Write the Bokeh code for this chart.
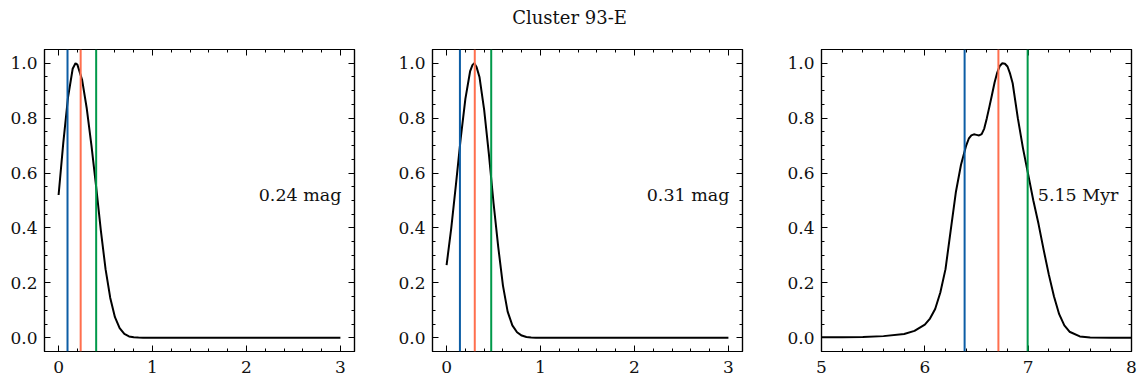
from bokeh.plotting import figure
from bokeh.layouts import row, column
from bokeh.models import LinearAxis, FixedTicker, Label, Span, CustomLabelingPolicy
from bokeh.embed import file_html
from bokeh.resources import INLINE

FONT = "DejaVu Serif"
TITLE = "Cluster 93-E"

# Panel 1 (extinction, mag)
p1_x = [0, 0.05, 0.10, 0.15, 0.18, 0.20, 0.25, 0.30, 0.35, 0.40, 0.45, 0.50,
        0.55, 0.60, 0.65, 0.70, 0.75, 0.80, 0.85, 0.90, 1.0, 1.5, 2.0, 2.5, 3.0]
p1_y = [0.52, 0.71, 0.875, 0.98, 1.0, 0.995, 0.94, 0.835, 0.70, 0.55, 0.39, 0.25,
        0.145, 0.075, 0.035, 0.014, 0.005, 0.002, 0.001, 0.0003, 0.0, 0.0, 0.0, 0.0, 0.0]
p1_lines = [0.095, 0.235, 0.40]
p1_label = "0.24 mag"

# Panel 2 (extinction, mag)
p2_x = [0, 0.05, 0.10, 0.15, 0.20, 0.25, 0.275, 0.295, 0.32, 0.35, 0.40, 0.45, 0.50,
        0.55, 0.60, 0.65, 0.70, 0.75, 0.80, 0.85, 0.90, 0.95, 1.0, 1.5, 2.0, 2.5, 3.0]
p2_y = [0.265, 0.40, 0.56, 0.725, 0.87, 0.97, 0.993, 1.0, 0.985, 0.95, 0.83, 0.67, 0.49,
        0.33, 0.19, 0.095, 0.045, 0.02, 0.008, 0.003, 0.001, 0.0004, 0.0001, 0.0, 0.0,
        0.0, 0.0]
p2_lines = [0.142, 0.30, 0.475]
p2_label = "0.31 mag"

# Panel 3 (log age)
p3_x = [5.0, 5.2, 5.4, 5.6, 5.8, 5.9, 6.0, 6.05, 6.1, 6.15, 6.2, 6.25, 6.3, 6.35,
        6.4, 6.425, 6.45, 6.475, 6.5, 6.525, 6.55, 6.575, 6.6, 6.625, 6.65, 6.675,
        6.7, 6.725, 6.75, 6.775, 6.8, 6.825, 6.85, 6.9, 6.95, 7.0, 7.05, 7.1, 7.15,
        7.2, 7.25, 7.3, 7.35, 7.4, 7.5, 7.6, 7.8, 8.0]
p3_y = [0.002, 0.002, 0.003, 0.006, 0.014, 0.025, 0.048, 0.07, 0.105, 0.165, 0.25,
        0.39, 0.53, 0.63, 0.70, 0.725, 0.737, 0.741, 0.739, 0.737, 0.742, 0.762,
        0.80, 0.842, 0.885, 0.93, 0.965, 0.99, 1.0, 0.998, 0.988, 0.962, 0.927,
        0.80, 0.69, 0.595, 0.50, 0.415, 0.32, 0.23, 0.15, 0.086, 0.045,
        0.022, 0.005, 0.001, 0.0, 0.0]
p3_lines = [6.385, 6.712, 6.995]
p3_label = "5.15 Myr"

line_colors = ["#0C5DA5", "#FF6F4E", "#00994A"]

y_major = [0.0, 0.2, 0.4, 0.6, 0.8, 1.0]
y_minor = [round(-0.05 + 0.05 * i, 2) for i in range(23)]
x_major_a = [0, 1, 2, 3]
x_minor_a = [round(0.2 * i, 1) for i in range(-1, 16)]
x_major_b = [5, 6, 7, 8]
x_minor_b = [round(5 + 0.2 * i, 1) for i in range(16)]


def style_axis(ax, labels=True):
    ax.axis_line_color = "black"
    ax.axis_line_width = 1.2
    ax.major_tick_in = 6
    ax.major_tick_out = 0
    ax.minor_tick_in = 3
    ax.minor_tick_out = 0
    ax.major_tick_line_color = "black"
    ax.minor_tick_line_color = "black"
    ax.major_tick_line_width = 1
    ax.minor_tick_line_width = 1
    if labels:
        ax.major_label_text_font = FONT
        ax.major_label_text_font_size = "17px"
        ax.major_label_text_color = "#111111"
    else:
        ax.major_label_text_font_size = "0px"
        ax.major_label_standoff = 0
        ax.major_label_policy = CustomLabelingPolicy(code="return []")


def panel(xs, ys, vlines, label, xr, xmaj, xmin, border_left, border_right):
    p = figure(frame_width=310, frame_height=302, x_range=xr, y_range=(-0.05, 1.05),
               min_border_left=border_left, min_border_right=border_right,
               min_border_top=11, min_border_bottom=25,
               toolbar_location=None, output_backend="svg")
    p.outline_line_color = "black"
    p.outline_line_width = 1.2
    p.xgrid.visible = False
    p.ygrid.visible = False
    p.background_fill_color = "white"
    p.border_fill_color = "white"
    xt = FixedTicker(ticks=xmaj, minor_ticks=xmin)
    yt = FixedTicker(ticks=y_major, minor_ticks=y_minor)
    p.xaxis.ticker = xt
    p.yaxis.ticker = yt
    p.xaxis.major_label_overrides = {v: str(v) for v in xmaj}
    p.yaxis.major_label_overrides = {v: f"{v:.1f}" for v in y_major}
    style_axis(p.xaxis[0])
    style_axis(p.yaxis[0])
    p.xaxis.major_label_standoff = 9
    p.yaxis.major_label_standoff = 7
    top = LinearAxis(ticker=xt)
    style_axis(top, labels=False)
    p.add_layout(top, "above")
    right = LinearAxis(ticker=yt)
    style_axis(right, labels=False)
    p.add_layout(right, "right")
    for loc, col in zip(vlines, line_colors):
        p.add_layout(Span(location=loc, dimension="height", line_color=col, line_width=2))
    p.line(xs, ys, line_color="black", line_width=2)
    x0, x1 = xr
    p.add_layout(Label(x=x0 + 0.958 * (x1 - x0), y=0.52, text=label, text_align="right",
                       text_baseline="middle", text_font=FONT,
                       text_font_size="17.5px", text_color="#111111"))
    return p


pa = panel(p1_x, p1_y, p1_lines, p1_label, (-0.15, 3.15), x_major_a, x_minor_a, 44, 41)
pb = panel(p2_x, p2_y, p2_lines, p2_label, (-0.15, 3.15), x_major_a, x_minor_a, 36, 42)
pc = panel(p3_x, p3_y, p3_lines, p3_label, (5, 8), x_major_b, x_minor_b, 36, 7)

tf = figure(width=1136, height=38, x_range=(0, 1136), y_range=(0, 38), min_border=0,
            toolbar_location=None, output_backend="svg",
            x_axis_location=None, y_axis_location=None)
tf.outline_line_color = None
tf.xgrid.visible = False
tf.ygrid.visible = False
tf.add_layout(Label(x=569, y=21, text=TITLE, text_align="center",
                    text_baseline="middle", text_font=FONT, text_font_size="18px",
                    text_color="#111111"))

layout = column(tf, row(pa, pb, pc))
open("out.html", "w").write(file_html(layout, INLINE))
